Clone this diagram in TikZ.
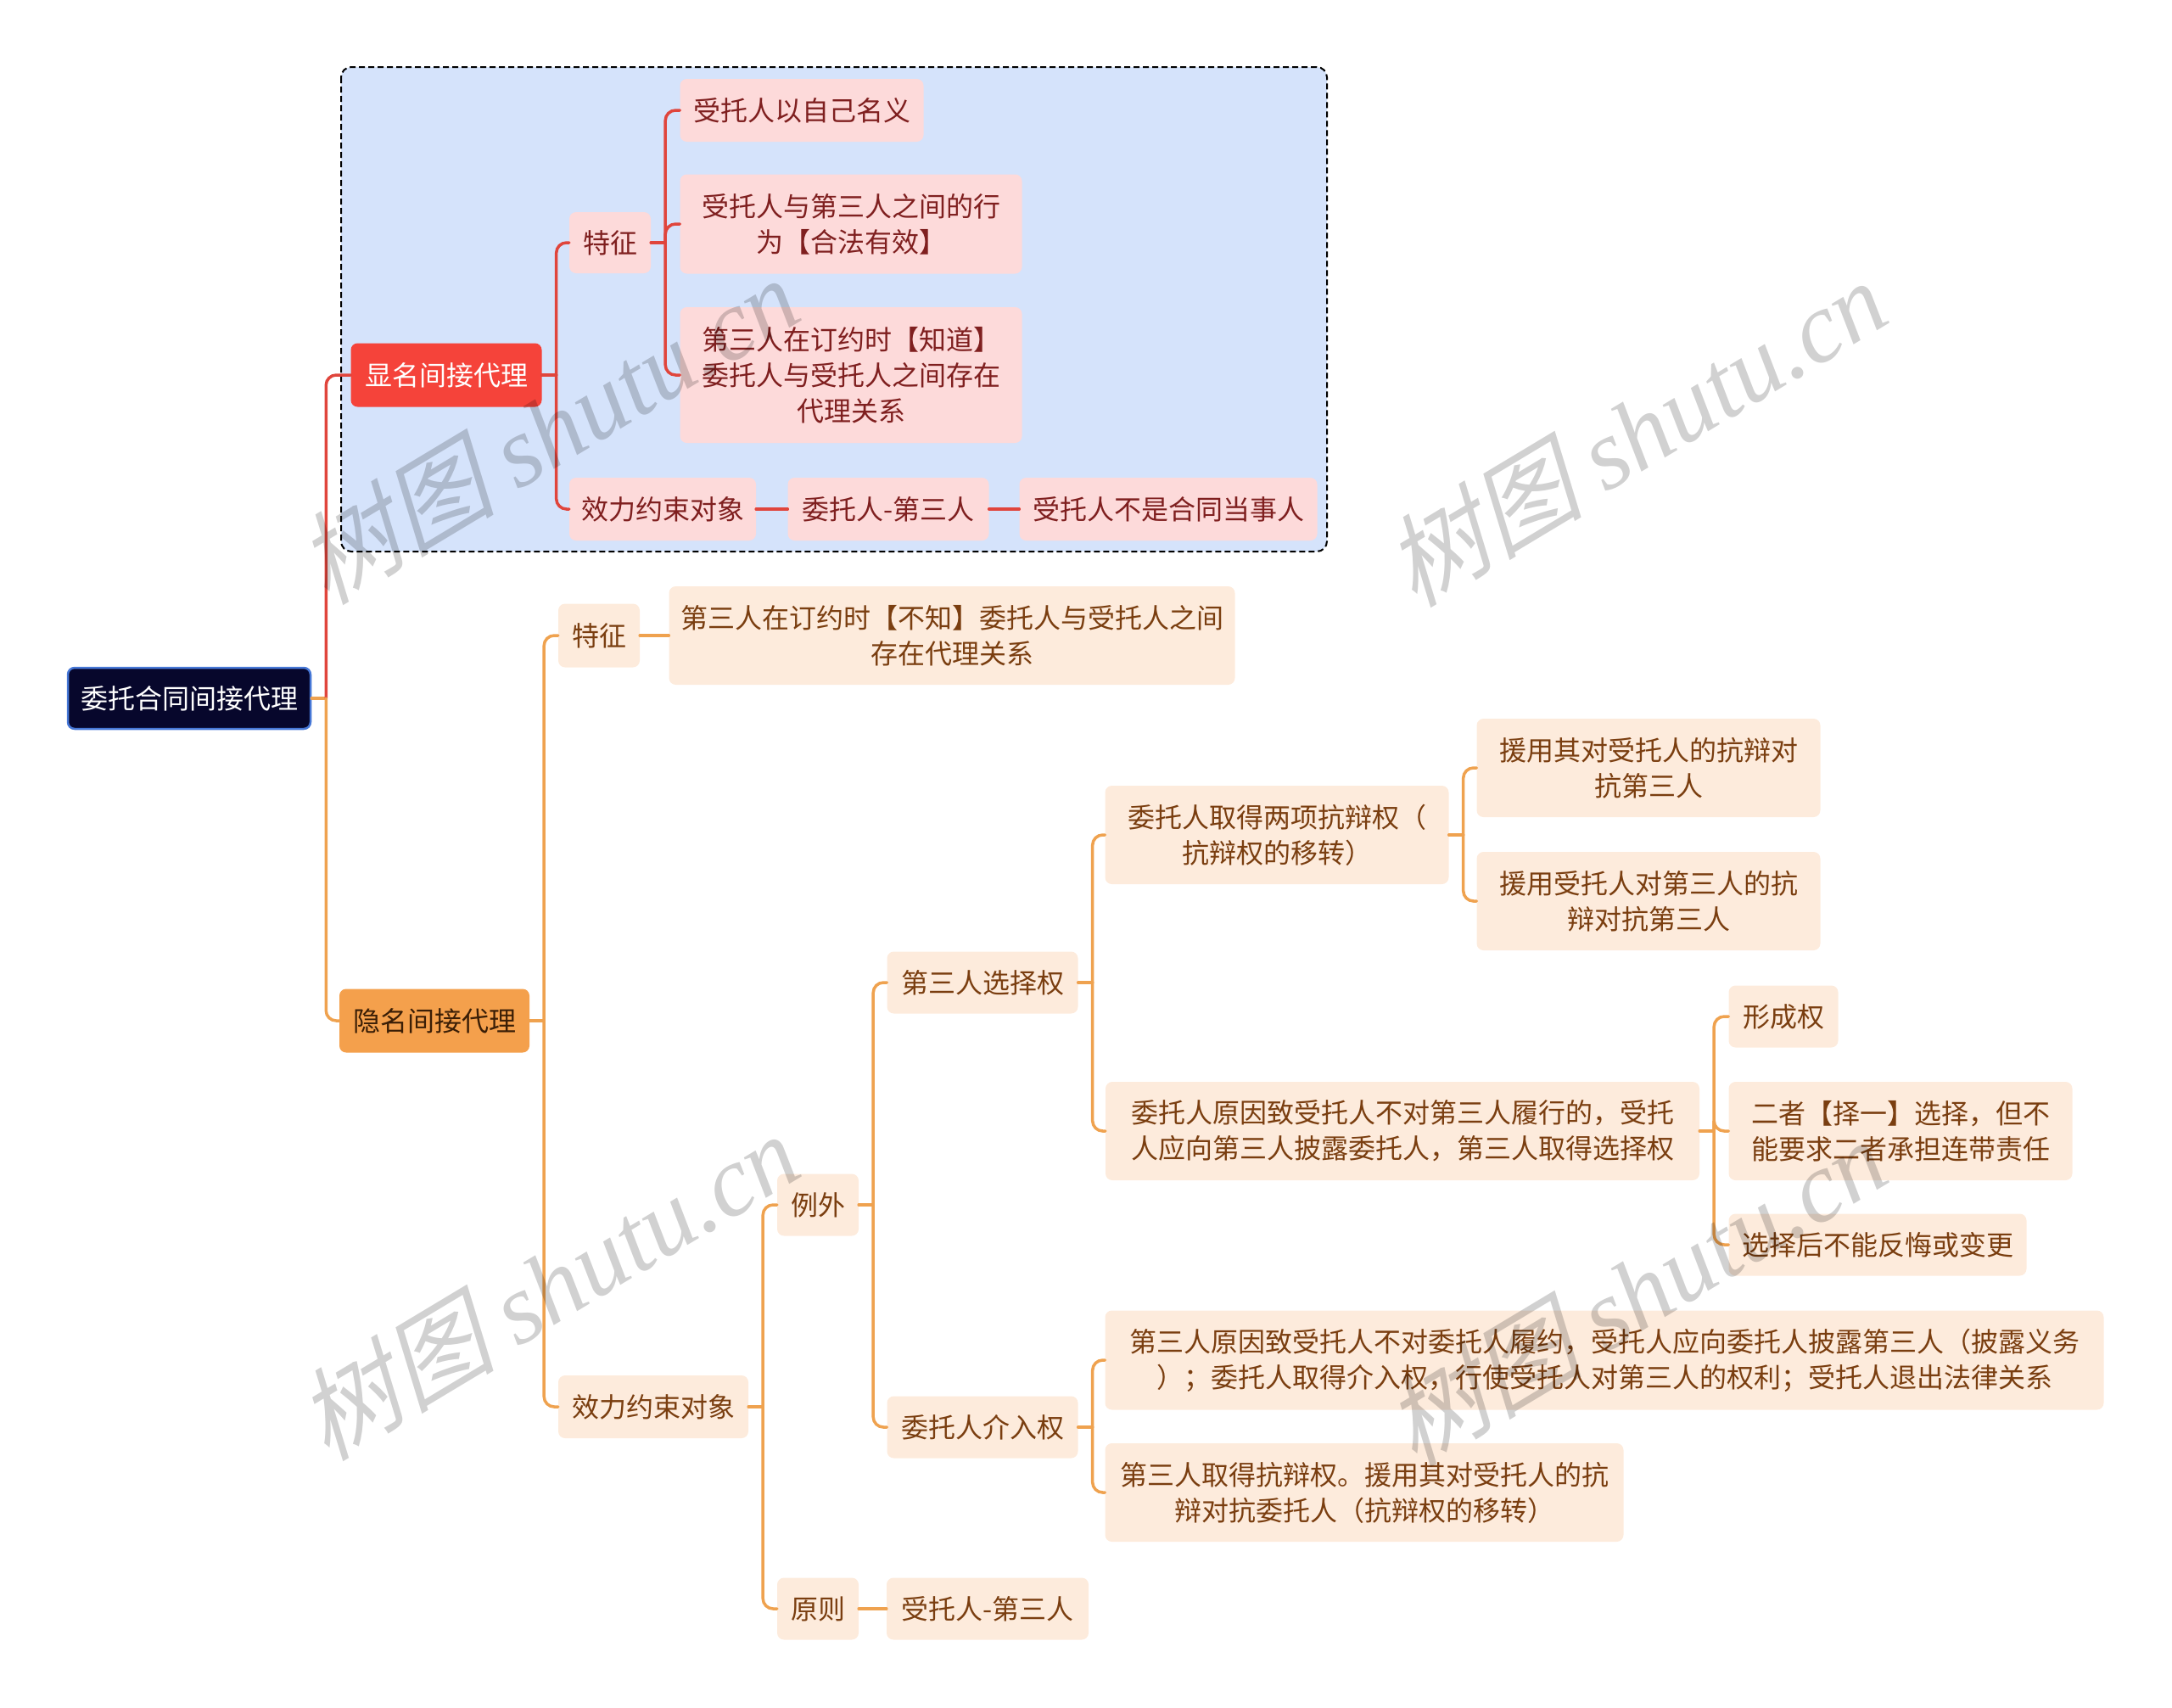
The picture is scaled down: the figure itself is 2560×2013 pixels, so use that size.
\documentclass[tikz,border=0pt]{standalone}
\usepackage{fontspec}
\setmainfont{Noto Sans CJK SC}
\newfontfamily\wmlatin{Liberation Serif}
\newfontfamily\wmcjk[FakeSlant=0.25]{Noto Sans CJK SC}
\usetikzlibrary{calc}

\definecolor{rootfill}{HTML}{07072C}
\definecolor{rootborder}{HTML}{4677D6}
\definecolor{redfill}{HTML}{F5433A}
\definecolor{orangefill}{HTML}{F4A04C}
\definecolor{orgtext}{HTML}{3A1E06}
\definecolor{pinkfill}{HTML}{FDDADA}
\definecolor{pinktext}{HTML}{7F1F1F}
\definecolor{beigefill}{HTML}{FDEBDC}
\definecolor{browntext}{HTML}{7A3E10}
\definecolor{redline}{HTML}{E0453C}
\definecolor{orangeline}{HTML}{EFA24F}
\definecolor{bluebox}{HTML}{D5E3FB}

\tikzset{
  base/.style={rounded corners=8pt, inner sep=0pt, align=center,
    font=\fontsize{32}{42}\selectfont},
  rootnode/.style={base, fill=rootfill, draw=rootborder, line width=2.5pt, text=white},
  rednode/.style={base, fill=redfill, text=white},
  orgnode/.style={base, fill=orangefill, text=orgtext},
  pinknode/.style={base, fill=pinkfill, text=pinktext},
  beigenode/.style={base, fill=beigefill, text=browntext},
  link/.style={line width=3.5pt, rounded corners=12pt, line cap=round},
  rlink/.style={link, draw=redline},
  olink/.style={link, draw=orangeline},
  wmark/.style={rotate=31, text=black, text opacity=0.18, inner sep=0pt},
}

% \mynode{name}{cx}{cy}{w}{h}{style}{text}
\newcommand\mynode[7]{\node[#6, minimum width=#4pt, minimum height=#5pt] (#1) at (#2,#3) {#7};}
% \stub{parent}{style}
\newcommand\stub[2]{\draw[#2] (#1.east) -- ++(17,0);}
% \conn{parent}{child}{style}
\newcommand\conn[3]{\draw[#3] ($(#1.east)+(17,0)$) |- (#2.west);}

\begin{document}
\begin{tikzpicture}[x=1pt,y=-1pt]
\useasboundingbox (0,0) rectangle (2560,2013);

% dashed group box
\draw[fill=bluebox, dash pattern=on 7pt off 4pt, line width=2pt, rounded corners=12pt]
  (402,79) rectangle (1564,650);

% nodes
\mynode{root}{223}{823}{286}{72}{rootnode}{委托合同间接代理}
\mynode{xm}{526}{442}{225}{75}{rednode}{显名间接代理}
\mynode{ym}{512}{1203}{224}{75}{orgnode}{隐名间接代理}

% explicit branch
\mynode{tzA}{719}{286}{96}{72}{pinknode}{特征}
\mynode{tA1}{945}{130}{287}{74}{pinknode}{受托人以自己名义}
\mynode{tA2}{1003}{264}{403}{117}{pinknode}{受托人与第三人之间的行\\为【合法有效】}
\mynode{tA3}{1003}{442}{403}{160}{pinknode}{第三人在订约时【知道】\\委托人与受托人之间存在\\代理关系}
\mynode{xlA}{781}{600}{220}{74}{pinknode}{效力约束对象}
\mynode{wA}{1047}{600}{237}{74}{pinknode}{委托人-第三人}
\mynode{sA}{1377}{600}{351}{74}{pinknode}{受托人不是合同当事人}

% hidden branch
\mynode{tzB}{706}{749}{96}{75}{beigenode}{特征}
\mynode{tB1}{1122}{749}{667}{116}{beigenode}{第三人在订约时【不知】委托人与受托人之间\\存在代理关系}
\mynode{xlB}{770}{1658}{224}{74}{beigenode}{效力约束对象}
\mynode{lw}{964}{1420}{96}{73}{beigenode}{例外}
\mynode{yz}{964}{1896}{96}{73}{beigenode}{原则}
\mynode{yz1}{1164}{1896}{238}{73}{beigenode}{受托人-第三人}
\mynode{xzq}{1158}{1158}{225}{73}{beigenode}{第三人选择权}
\mynode{jrq}{1158}{1682}{225}{73}{beigenode}{委托人介入权}
\mynode{c1}{1505}{984}{405}{116}{beigenode}{委托人取得两项抗辩权（\\抗辩权的移转）}
\mynode{d1}{1943}{905}{405}{116}{beigenode}{援用其对受托人的抗辩对\\抗第三人}
\mynode{d2}{1943}{1062}{405}{116}{beigenode}{援用受托人对第三人的抗\\辩对抗第三人}
\mynode{c2}{1653}{1333}{700}{116}{beigenode}{委托人原因致受托人不对第三人履行的，受托\\人应向第三人披露委托人，第三人取得选择权}
\mynode{e1}{2102}{1198}{129}{73}{beigenode}{形成权}
\mynode{e2}{2240}{1333}{405}{116}{beigenode}{二者【择一】选择，但不\\能要求二者承担连带责任}
\mynode{e3}{2213}{1467}{351}{73}{beigenode}{选择后不能反悔或变更}
\mynode{f1}{1891}{1603}{1177}{117}{beigenode}{第三人原因致受托人不对委托人履约，受托人应向委托人披露第三人（披露义务\\）；委托人取得介入权，行使受托人对第三人的权利；受托人退出法律关系}
\mynode{f2}{1608}{1759}{611}{116}{beigenode}{第三人取得抗辩权。援用其对受托人的抗\\辩对抗委托人（抗辩权的移转）}

% connectors: root
\stub{root}{olink}
\conn{root}{xm}{rlink}
\conn{root}{ym}{olink}

% explicit branch
\stub{xm}{rlink}
\conn{xm}{tzA}{rlink}
\conn{xm}{xlA}{rlink}
\stub{tzA}{rlink}
\conn{tzA}{tA1}{rlink}
\conn{tzA}{tA2}{rlink}
\conn{tzA}{tA3}{rlink}
\draw[rlink] (xlA.east) -- (wA.west);
\draw[rlink] (wA.east) -- (sA.west);

% hidden branch
\stub{ym}{olink}
\conn{ym}{tzB}{olink}
\conn{ym}{xlB}{olink}
\draw[olink] (tzB.east) -- (tB1.west);
\stub{xlB}{olink}
\conn{xlB}{lw}{olink}
\conn{xlB}{yz}{olink}
\draw[olink] (yz.east) -- (yz1.west);
\stub{lw}{olink}
\conn{lw}{xzq}{olink}
\conn{lw}{jrq}{olink}
\stub{xzq}{olink}
\conn{xzq}{c1}{olink}
\conn{xzq}{c2}{olink}
\stub{c1}{olink}
\conn{c1}{d1}{olink}
\conn{c1}{d2}{olink}
\stub{c2}{olink}
\conn{c2}{e1}{olink}
\conn{c2}{e2}{olink}
\conn{c2}{e3}{olink}
\stub{jrq}{olink}
\conn{jrq}{f1}{olink}
\conn{jrq}{f2}{olink}

% watermarks
\foreach \wx/\wy [count=\i] in {645/506, 1927/509, 645/1515, 1927/1522}{
  \node[wmark] (wm\i) at (\wx,\wy) {\fontsize{118}{118}\selectfont\wmcjk 树图\ \wmlatin\itshape shutu.cn};
}
\end{tikzpicture}
\end{document}
